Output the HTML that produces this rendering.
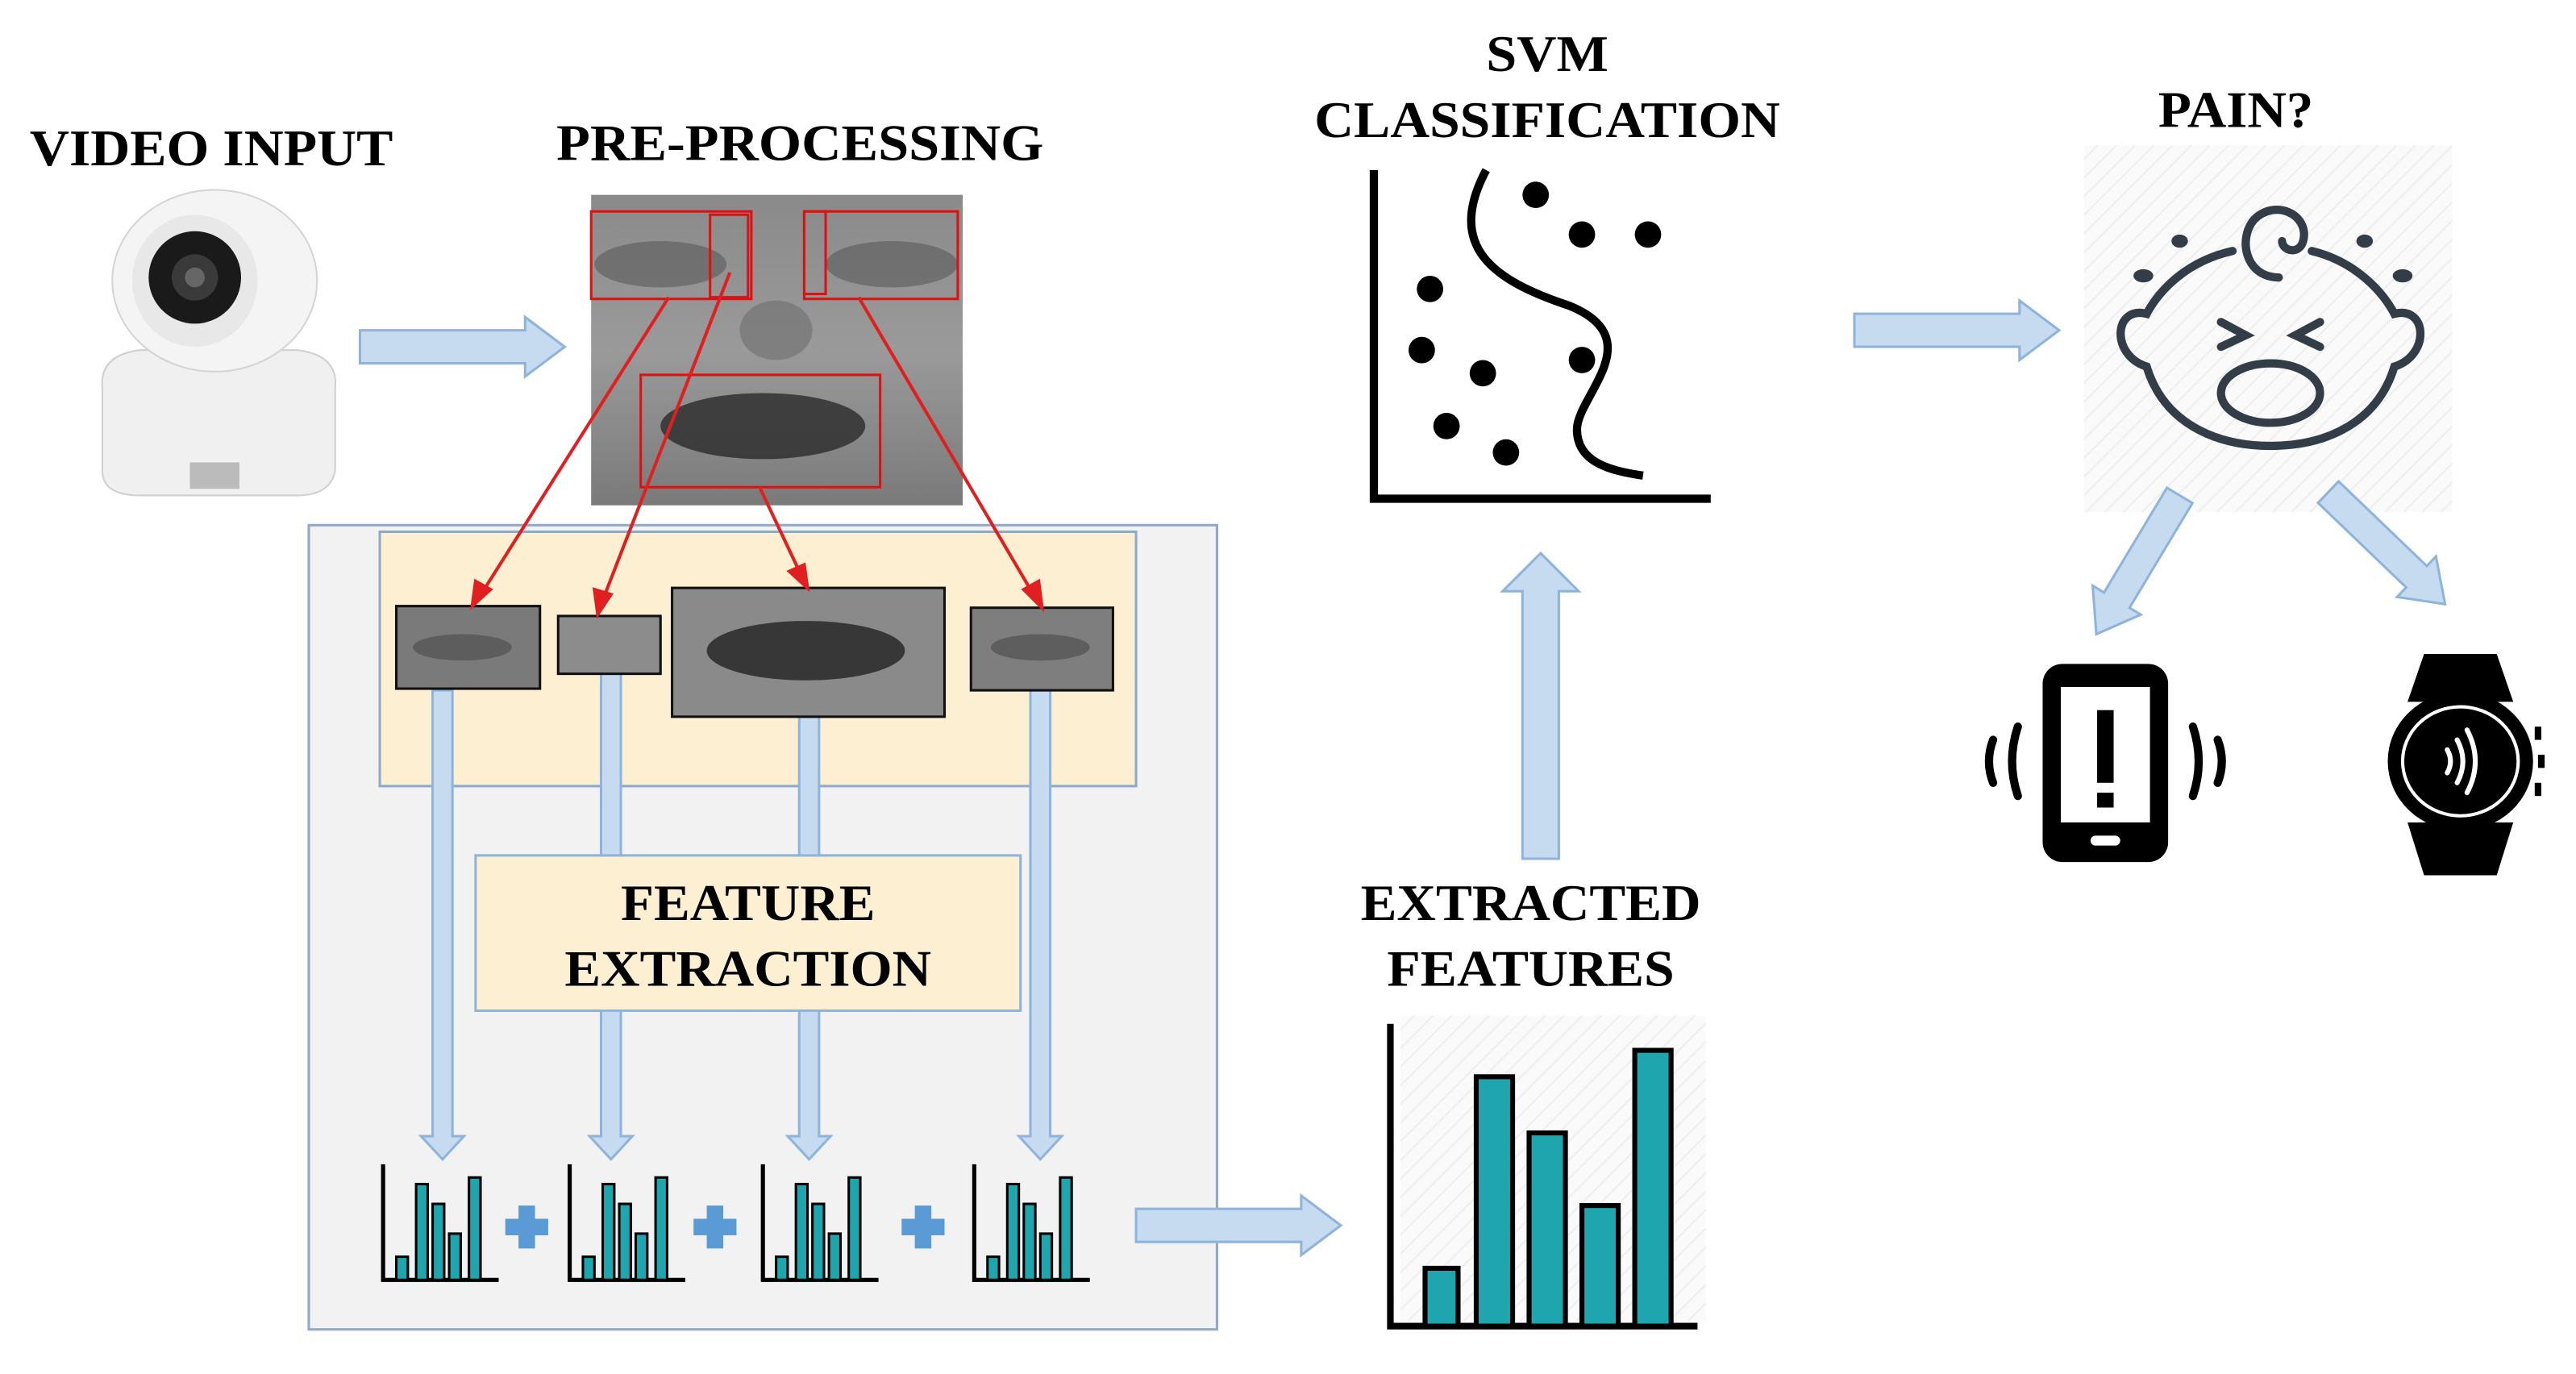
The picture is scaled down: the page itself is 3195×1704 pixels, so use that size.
<!DOCTYPE html>
<html><head><meta charset="utf-8"><style>
html,body{margin:0;padding:0;background:#fff}
svg{display:block}
text{font-family:"Liberation Serif",serif;font-weight:bold;fill:#000}
</style></head><body>
<svg width="3195" height="1704" viewBox="0 0 1560 832" xmlns="http://www.w3.org/2000/svg">
<defs>
<g id="ha"><polygon points="0,-10 100,-10 100,-18 124,0 100,18 100,10 0,10" fill="#c6dbf0" stroke="#8fb4dc" stroke-width="1.5"/></g>
<g id="da"><polygon points="0,-9 74,-9 74,-17 98,0 74,17 74,9 0,9" fill="#c6dbf0" stroke="#8fb4dc" stroke-width="1.5"/></g>
<linearGradient id="fg" x1="0" y1="0" x2="0" y2="1"><stop offset="0" stop-color="#8a8a8a"/><stop offset=".5" stop-color="#9a9a9a"/><stop offset="1" stop-color="#7a7a7a"/></linearGradient>
<pattern id="hatch" width="8" height="8" patternUnits="userSpaceOnUse" patternTransform="rotate(45)"><rect width="8" height="8" fill="#fafafa"/><line x1="0" y1="0" x2="0" y2="8" stroke="#eeeeee" stroke-width="2"/></pattern>
<g id="sc"><path d="M0,0 V70 H70" fill="none" stroke="#000" stroke-width="2.5"/>
<rect x="8" y="56" width="7" height="14" fill="#1ea5ad" stroke="#000" stroke-width="1.5"/>
<rect x="20" y="12" width="7" height="58" fill="#1ea5ad" stroke="#000" stroke-width="1.5"/>
<rect x="30" y="24" width="7" height="46" fill="#1ea5ad" stroke="#000" stroke-width="1.5"/>
<rect x="40" y="42" width="7" height="28" fill="#1ea5ad" stroke="#000" stroke-width="1.5"/>
<rect x="52" y="8" width="7" height="62" fill="#1ea5ad" stroke="#000" stroke-width="1.5"/></g>
</defs>

<!-- titles -->
<text x="18" y="100" font-size="31" textLength="220" lengthAdjust="spacingAndGlyphs">VIDEO INPUT</text>
<text x="337" y="97" font-size="31" textLength="295" lengthAdjust="spacingAndGlyphs">PRE-PROCESSING</text>
<text x="900" y="43" font-size="31" textLength="74" lengthAdjust="spacingAndGlyphs">SVM</text>
<text x="796" y="83" font-size="31" textLength="282" lengthAdjust="spacingAndGlyphs">CLASSIFICATION</text>
<text x="1307" y="77" font-size="31" textLength="94" lengthAdjust="spacingAndGlyphs">PAIN?</text>
<text x="824" y="557" font-size="31" textLength="206" lengthAdjust="spacingAndGlyphs">EXTRACTED</text>
<text x="840" y="597" font-size="31" textLength="174" lengthAdjust="spacingAndGlyphs">FEATURES</text>

<!-- camera -->
<g>
<path d="M62,235 Q60,215 85,212 H180 Q205,215 203,235 V285 Q200,300 180,300 H85 Q62,300 62,285 Z" fill="#f0f0f0" stroke="#d0d0d0"/>
<ellipse cx="130" cy="170" rx="62" ry="55" fill="#f4f4f4" stroke="#d4d4d4"/>
<ellipse cx="118" cy="170" rx="38" ry="40" fill="#e8e8e8"/>
<circle cx="118" cy="168" r="28" fill="#1a1a1a"/>
<circle cx="118" cy="168" r="14" fill="#3a3a3a"/>
<circle cx="118" cy="168" r="6" fill="#666"/>
<rect x="115" y="280" width="30" height="16" fill="#bbb"/>
</g>
<use href="#ha" x="218" y="210"/>

<!-- face -->
<rect x="358" y="118" width="225" height="188" fill="url(#fg)"/>
<ellipse cx="400" cy="160" rx="40" ry="14" fill="#5a5a5a" opacity=".6"/>
<ellipse cx="540" cy="160" rx="40" ry="14" fill="#5a5a5a" opacity=".6"/>
<ellipse cx="470" cy="200" rx="22" ry="18" fill="#6e6e6e" opacity=".6"/>
<ellipse cx="462" cy="258" rx="62" ry="20" fill="#2a2a2a" opacity=".8"/>
<g fill="none" stroke="#d11" stroke-width="1.5">
<rect x="358" y="128" width="97" height="53"/>
<rect x="430" y="130" width="23" height="50"/>
<rect x="487" y="128" width="13" height="50"/>
<rect x="487" y="128" width="93" height="53"/>
<rect x="388" y="227" width="145" height="68"/>
</g>

<!-- panels -->
<rect x="187" y="318" width="550" height="487" fill="#f2f2f2" stroke="#8fa9c8" stroke-width="1.5"/>
<rect x="230" y="322" width="458" height="154" fill="#fdf0d2" stroke="#8fa9c8" stroke-width="1.5"/>

<!-- vertical arrows -->
<g fill="#c6dbf0" stroke="#8fb4dc" stroke-width="1.5">
<polygon points="262,418 274,418 274,688 281,688 268,702 255,688 262,688"/>
<polygon points="364,408 376,408 376,688 383,688 370,702 357,688 364,688"/>
<polygon points="484,434 496,434 496,688 503,688 490,702 477,688 484,688"/>
<polygon points="624,418 636,418 636,688 643,688 630,702 617,688 624,688"/>
</g>
<rect x="288" y="518" width="330" height="94" fill="#fdf0d2" stroke="#8fb4dc" stroke-width="1.5"/>
<text x="376" y="557" font-size="31" textLength="154" lengthAdjust="spacingAndGlyphs">FEATURE</text>
<text x="342" y="597" font-size="31" textLength="222" lengthAdjust="spacingAndGlyphs">EXTRACTION</text>

<!-- crops -->
<g stroke="#111" stroke-width="1.5">
<rect x="240" y="367" width="87" height="50" fill="#7a7a7a"/>
<rect x="338" y="373" width="62" height="35" fill="#8c8c8c"/>
<rect x="407" y="356" width="165" height="78" fill="#8a8a8a"/>
<rect x="588" y="368" width="86" height="50" fill="#7e7e7e"/>
</g>
<ellipse cx="488" cy="394" rx="60" ry="18" fill="#222" opacity=".8"/>
<ellipse cx="280" cy="392" rx="30" ry="8" fill="#4a4a4a" opacity=".6"/>
<ellipse cx="630" cy="392" rx="30" ry="8" fill="#4a4a4a" opacity=".6"/>

<!-- red arrows -->
<g stroke="#e02020" stroke-width="2" fill="#e02020">
<line x1="405" y1="180" x2="290" y2="362"/><polygon points="286,367 288,352 297,357"/>
<line x1="442" y1="165" x2="364" y2="366"/><polygon points="362,372 360,357 370,360"/>
<line x1="460" y1="295" x2="486" y2="350"/><polygon points="489,356 478,346 487,342"/>
<line x1="520" y1="180" x2="627" y2="362"/><polygon points="631,368 620,357 629,352"/>
</g>

<!-- small charts -->
<use href="#sc" x="232" y="705"/>
<use href="#sc" x="345" y="705"/>
<use href="#sc" x="462" y="705"/>
<use href="#sc" x="590" y="705"/>
<g fill="#5b9bd5">
<rect x="306" y="738" width="26" height="10"/><rect x="314" y="730" width="10" height="26"/>
<rect x="420" y="738" width="26" height="10"/><rect x="428" y="730" width="10" height="26"/>
<rect x="546" y="738" width="26" height="10"/><rect x="554" y="730" width="10" height="26"/>
</g>
<use href="#ha" x="688" y="742"/>

<!-- big chart -->
<rect x="848" y="615" width="185" height="185" fill="url(#hatch)"/>
<path d="M842,620 V803 H1028" fill="none" stroke="#000" stroke-width="4"/>
<g fill="#1ea5ad" stroke="#000" stroke-width="3">
<rect x="863" y="768" width="20" height="35"/>
<rect x="894" y="652" width="22" height="151"/>
<rect x="926" y="686" width="22" height="117"/>
<rect x="958" y="730" width="22" height="73"/>
<rect x="990" y="636" width="22" height="167"/>
</g>

<!-- up arrow -->
<polygon points="922,520 944,520 944,358 956,358 933,335 910,358 922,358" fill="#c6dbf0" stroke="#8fb4dc" stroke-width="1.5"/>

<!-- SVM plot -->
<path d="M832,103 V302 H1036" fill="none" stroke="#000" stroke-width="5"/>
<path d="M900,103 C875,150 905,170 950,185 C1000,205 955,240 955,260 C955,280 975,285 995,288" fill="none" stroke="#000" stroke-width="5"/>
<g fill="#000">
<circle cx="930" cy="118" r="8"/><circle cx="958" cy="142" r="8"/><circle cx="998" cy="142" r="8"/>
<circle cx="866" cy="175" r="8"/><circle cx="861" cy="212" r="8"/><circle cx="898" cy="226" r="8"/>
<circle cx="958" cy="218" r="8"/><circle cx="876" cy="258" r="8"/><circle cx="912" cy="274" r="8"/>
</g>
<use href="#ha" x="1123" y="200"/>

<!-- baby -->
<rect x="1262" y="88" width="223" height="222" fill="url(#hatch)"/>
<g fill="none" stroke="#333d48" stroke-width="5" stroke-linecap="round">
<path d="M1352,152 C1325,158 1308,175 1300,190 C1280,185 1278,215 1300,222 C1310,255 1340,270 1375,270 C1410,270 1440,255 1450,222 C1472,215 1470,185 1450,190 C1442,175 1425,158 1400,152"/>
<path d="M1380,168 C1360,168 1355,145 1365,133 C1378,120 1398,130 1395,145 C1393,155 1382,152 1382,146"/>
<path d="M1345,195 L1360,203 L1345,210"/><path d="M1405,195 L1390,203 L1405,210"/>
<ellipse cx="1375" cy="238" rx="30" ry="18"/>
</g>
<g fill="#333d48">
<ellipse cx="1298" cy="167" rx="6" ry="4"/><ellipse cx="1320" cy="146" rx="5" ry="4"/>
<ellipse cx="1455" cy="167" rx="6" ry="4"/><ellipse cx="1432" cy="146" rx="5" ry="4"/>
</g>
<use href="#da" transform="translate(1320,300) rotate(121)"/>
<use href="#da" transform="translate(1410,298) rotate(43.8)"/>

<!-- phone -->
<rect x="1237" y="402" width="76" height="120" rx="12" fill="#000"/>
<rect x="1248" y="416" width="54" height="82" fill="#fff"/>
<rect x="1270" y="430" width="10" height="44" fill="#000"/>
<rect x="1270" y="480" width="10" height="9" fill="#000"/>
<rect x="1266" y="506" width="18" height="6" rx="3" fill="#fff"/>
<g fill="none" stroke="#000" stroke-width="5" stroke-linecap="round">
<path d="M1207,448 Q1202,461 1207,474"/><path d="M1222,440 Q1215,461 1222,482"/>
<path d="M1343,448 Q1348,461 1343,474"/><path d="M1328,440 Q1335,461 1328,482"/>
</g>
<!-- watch -->
<path d="M1468,396 H1512 L1522,425 H1458 Z" fill="#000"/>
<path d="M1458,498 H1522 L1512,530 H1468 Z" fill="#000"/>
<ellipse cx="1490" cy="461" rx="44" ry="42" fill="#000"/>
<ellipse cx="1490" cy="461" rx="35" ry="33" fill="none" stroke="#fff" stroke-width="2"/>
<g fill="none" stroke="#fff" stroke-width="3" stroke-linecap="round">
<path d="M1482,454 Q1486,461 1482,468"/><path d="M1488,448 Q1495,461 1488,474"/><path d="M1494,442 Q1504,461 1494,480"/>
</g>
<g fill="#000"><rect x="1535" y="440" width="4" height="8"/><rect x="1537" y="457" width="4" height="8"/><rect x="1535" y="474" width="4" height="8"/></g>
</svg>
</body></html>
